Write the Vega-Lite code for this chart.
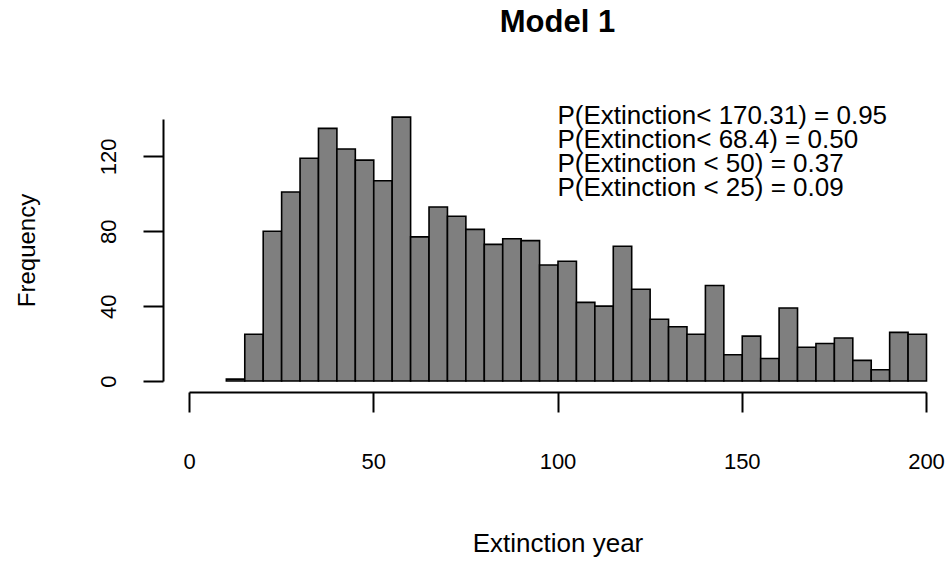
{
  "$schema": "https://vega.github.io/schema/vega-lite/v6.json",
  "autosize": {"type": "none"},
  "width": 737,
  "height": 262,
  "padding": {"left": 189, "top": 119, "right": 23, "bottom": 180},
  "background": "white",
  "config": {
    "view": {"stroke": null},
    "font": "Liberation Sans"
  },
  "title": {
    "text": "Model 1",
    "font": "Liberation Sans",
    "fontSize": 31,
    "fontWeight": "bold",
    "color": "black",
    "anchor": "middle",
    "frame": "group",
    "baseline": "alphabetic",
    "offset": 40
  },
  "datasets": {
    "bins": [
      {"start": 10, "end": 15, "count": 1},
      {"start": 15, "end": 20, "count": 25},
      {"start": 20, "end": 25, "count": 80},
      {"start": 25, "end": 30, "count": 101},
      {"start": 30, "end": 35, "count": 119},
      {"start": 35, "end": 40, "count": 135},
      {"start": 40, "end": 45, "count": 124},
      {"start": 45, "end": 50, "count": 118},
      {"start": 50, "end": 55, "count": 107},
      {"start": 55, "end": 60, "count": 141},
      {"start": 60, "end": 65, "count": 77},
      {"start": 65, "end": 70, "count": 93},
      {"start": 70, "end": 75, "count": 88},
      {"start": 75, "end": 80, "count": 81},
      {"start": 80, "end": 85, "count": 73},
      {"start": 85, "end": 90, "count": 76},
      {"start": 90, "end": 95, "count": 75},
      {"start": 95, "end": 100, "count": 62},
      {"start": 100, "end": 105, "count": 64},
      {"start": 105, "end": 110, "count": 42},
      {"start": 110, "end": 115, "count": 40},
      {"start": 115, "end": 120, "count": 72},
      {"start": 120, "end": 125, "count": 49},
      {"start": 125, "end": 130, "count": 33},
      {"start": 130, "end": 135, "count": 29},
      {"start": 135, "end": 140, "count": 25},
      {"start": 140, "end": 145, "count": 51},
      {"start": 145, "end": 150, "count": 14},
      {"start": 150, "end": 155, "count": 24},
      {"start": 155, "end": 160, "count": 12},
      {"start": 160, "end": 165, "count": 39},
      {"start": 165, "end": 170, "count": 18},
      {"start": 170, "end": 175, "count": 20},
      {"start": 175, "end": 180, "count": 23},
      {"start": 180, "end": 185, "count": 11},
      {"start": 185, "end": 190, "count": 6},
      {"start": 190, "end": 195, "count": 26},
      {"start": 195, "end": 200, "count": 25}
    ],
    "notes": [
      {"label": "P(Extinction< 170.31) = 0.95", "x": 100, "y": 137.3},
      {"label": "P(Extinction< 68.4) = 0.50", "x": 100, "y": 124.5},
      {"label": "P(Extinction < 50) = 0.37", "x": 100, "y": 111.6},
      {"label": "P(Extinction < 25) = 0.09", "x": 100, "y": 98.8}
    ]
  },
  "layer": [
    {
      "data": {"name": "bins"},
      "mark": {"type": "bar", "fill": "#7f7f7f", "stroke": "black", "strokeWidth": 1.6, "binSpacing": 0},
      "encoding": {
        "x": {
          "field": "start",
          "type": "quantitative",
          "bin": "binned",
          "scale": {"domain": [0, 200], "nice": false, "zero": false},
          "axis": {
            "title": "Extinction year",
            "titleFont": "Liberation Sans",
            "titleFontSize": 26,
            "titleFontWeight": "normal",
            "titleColor": "black",
            "titleBaseline": "alphabetic",
            "titleY": 159,
            "values": [0, 50, 100, 150, 200],
            "offset": 11,
            "grid": false,
            "domainColor": "black",
            "domainWidth": 2,
            "tickColor": "black",
            "tickWidth": 2,
            "tickSize": 20,
            "labelFont": "Liberation Sans",
            "labelFontSize": 22,
            "labelColor": "black",
            "labelBaseline": "alphabetic",
            "labelPadding": 56,
            "labelFlush": false,
            "labelOverlap": false
          }
        },
        "x2": {"field": "end"},
        "y": {
          "field": "count",
          "type": "quantitative",
          "scale": {"domain": [0, 140], "nice": false},
          "axis": {
            "title": "Frequency",
            "titleFont": "Liberation Sans",
            "titleFontSize": 24,
            "titleFontWeight": "normal",
            "titleColor": "black",
            "titleAngle": -90,
            "titleBaseline": "alphabetic",
            "titleAlign": "center",
            "titleX": -129,
            "values": [0, 20, 40, 60, 80, 100, 120, 140],
            "labelExpr": "datum.value % 40 == 0 ? datum.label : ''",
            "offset": 26,
            "grid": false,
            "domainColor": "black",
            "domainWidth": 2,
            "tickColor": "black",
            "tickWidth": 2,
            "tickSize": 20,
            "labelFont": "Liberation Sans",
            "labelFontSize": 22,
            "labelColor": "black",
            "labelAngle": -90,
            "labelAlign": "center",
            "labelBaseline": "alphabetic",
            "labelPadding": 28,
            "labelOverlap": false
          }
        }
      }
    },
    {
      "data": {"name": "notes"},
      "mark": {"type": "text", "align": "left", "baseline": "alphabetic", "font": "Liberation Sans", "fontSize": 26, "color": "black"},
      "encoding": {
        "x": {"field": "x", "type": "quantitative"},
        "y": {"field": "y", "type": "quantitative"},
        "text": {"field": "label"}
      }
    }
  ]
}
